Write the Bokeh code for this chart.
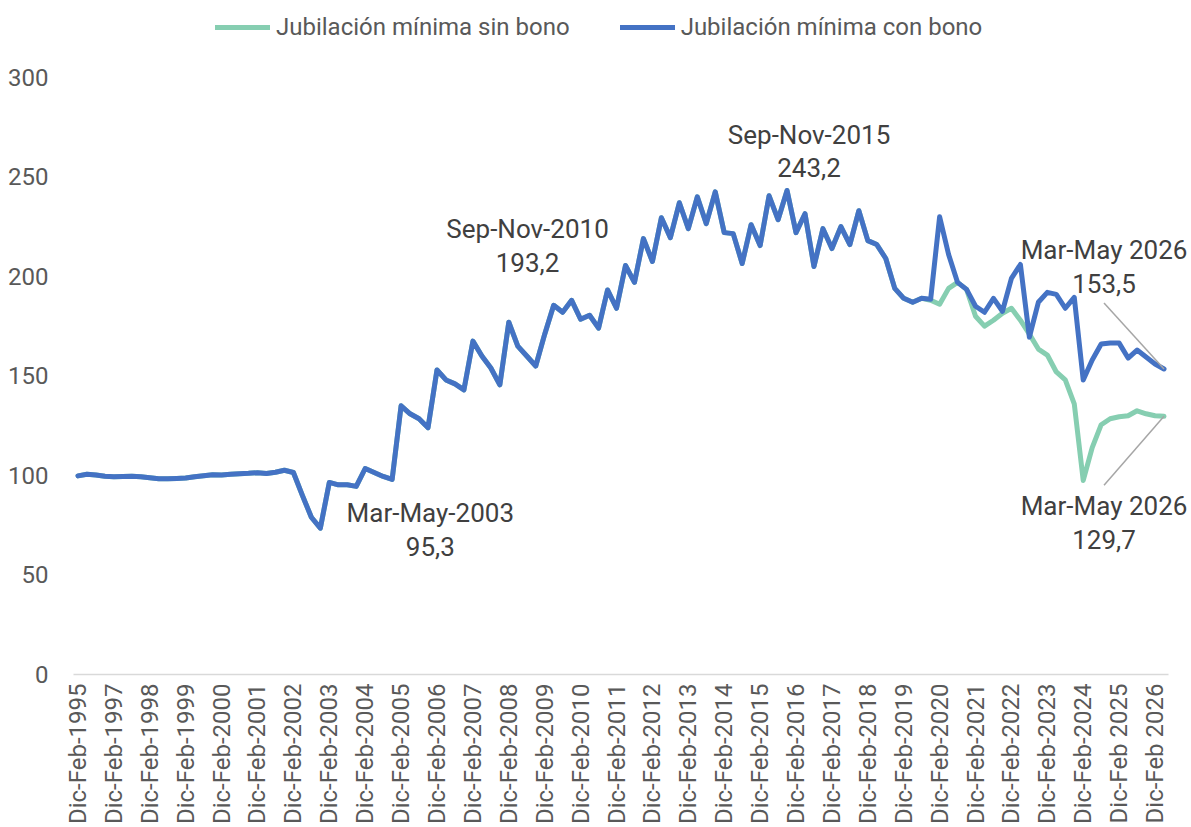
import math
from bokeh.plotting import figure
from bokeh.models import FixedTicker, Legend, LegendItem, Range1d
from bokeh.embed import file_html
from bokeh.resources import INLINE
from bokeh.core.properties import value

# ---------------- data ----------------
tick_labels = [
    "Dic-Feb-1995", "Dic-Feb-1997", "Dic-Feb-1998", "Dic-Feb-1999", "Dic-Feb-2000",
    "Dic-Feb-2001", "Dic-Feb-2002", "Dic-Feb-2003", "Dic-Feb-2004", "Dic-Feb-2005",
    "Dic-Feb-2006", "Dic-Feb-2007", "Dic-Feb-2008", "Dic-Feb-2009", "Dic-Feb-2010",
    "Dic-Feb-2011", "Dic-Feb-2012", "Dic-Feb-2013", "Dic-Feb-2014", "Dic-Feb-2015",
    "Dic-Feb-2016", "Dic-Feb-2017", "Dic-Feb-2018", "Dic-Feb-2019", "Dic-Feb-2020",
    "Dic-Feb-2021", "Dic-Feb-2022", "Dic-Feb-2023", "Dic-Feb-2024", "Dic-Feb 2025",
    "Dic-Feb 2026",
]

con_bono = [
    99.8, 100.6, 100.2, 99.6, 99.3, 99.5, 99.6, 99.3, 98.8, 98.4,
    98.3, 98.5, 98.7, 99.4, 99.9, 100.3, 100.2, 100.6, 100.9, 101.1,
    101.4, 101.0, 101.6, 102.6, 101.5, 90.0, 79.0, 73.5, 96.5, 95.3,
    95.3, 94.5, 103.5, 101.5, 99.5, 98.0, 135.0, 131.0, 128.5, 124.0,
    153.0, 148.0, 146.0, 143.0, 167.5, 160.0, 154.0, 145.5, 177.0, 165.0,
    160.0, 155.0, 171.0, 185.5, 182.0, 188.0, 178.5, 180.5, 174.0, 193.2,
    184.0, 205.5, 197.0, 219.0, 207.5, 229.5, 219.5, 237.0, 224.0, 240.0,
    226.5, 242.5, 222.0, 221.5, 206.5, 226.0, 215.5, 240.5, 228.5, 243.2,
    222.0, 231.5, 205.0, 224.0, 214.0, 225.0, 216.0, 233.0, 218.0, 216.0,
    209.0, 194.0, 189.0, 187.0, 189.0, 188.5, 230.0, 211.0, 197.0, 193.5,
    185.0, 182.0, 189.0, 182.5, 199.0, 206.0, 169.5, 187.0, 192.0, 191.0,
    184.0, 189.5, 148.0, 158.0, 166.0, 166.5, 166.5, 159.0, 163.0, 159.5,
    156.0, 153.5,
]

sin_bono = [
    99.8, 100.6, 100.2, 99.6, 99.3, 99.5, 99.6, 99.3, 98.8, 98.4,
    98.3, 98.5, 98.7, 99.4, 99.9, 100.3, 100.2, 100.6, 100.9, 101.1,
    101.4, 101.0, 101.6, 102.6, 101.5, 90.0, 79.0, 73.5, 96.5, 95.3,
    95.3, 94.5, 103.5, 101.5, 99.5, 98.0, 135.0, 131.0, 128.5, 124.0,
    153.0, 148.0, 146.0, 143.0, 167.5, 160.0, 154.0, 145.5, 177.0, 165.0,
    160.0, 155.0, 171.0, 185.5, 182.0, 188.0, 178.5, 180.5, 174.0, 193.2,
    184.0, 205.5, 197.0, 219.0, 207.5, 229.5, 219.5, 237.0, 224.0, 240.0,
    226.5, 242.5, 222.0, 221.5, 206.5, 226.0, 215.5, 240.5, 228.5, 243.2,
    222.0, 231.5, 205.0, 224.0, 214.0, 225.0, 216.0, 233.0, 218.0, 216.0,
    209.0, 194.0, 189.0, 187.0, 189.0, 188.0, 186.0, 194.0, 197.0, 193.5,
    180.0, 175.0, 178.0, 181.5, 184.0, 178.0, 171.0, 163.5, 160.5, 152.0,
    148.0, 136.0, 97.5, 114.0, 125.5, 128.5, 129.5, 130.0, 132.5, 131.0,
    130.0, 129.7,
]

series_names = ["Jubilación mínima sin bono", "Jubilación mínima con bono"]

# annotation labels: (series, index, period text)
annotations = [
    ("con", 29, "Mar-May-2003"),
    ("con", 59, "Sep-Nov-2010"),
    ("con", 79, "Sep-Nov-2015"),
    ("con", 121, "Mar-May 2026"),
    ("sin", 121, "Mar-May 2026"),
]

# ---------------- figure ----------------
FONT = "Roboto"
n = len(con_bono)
xs = list(range(n))

W, H = 1191, 827
LEFT = 73
FRAME_H = 675.0
PX_X = 1095.0 / n           # pixels per category
PX_Y = 598.0 / 300.0        # pixels per value unit
x_end = -0.5 + (W - LEFT) / PX_X
y_end = FRAME_H / PX_Y

p = figure(width=W, height=H, output_backend="svg", toolbar_location=None,
           x_range=Range1d(-0.5, x_end), y_range=Range1d(0, y_end),
           min_border_left=LEFT, min_border_right=0, min_border_top=0,
           min_border_bottom=0)
p.outline_line_color = None
p.xgrid.visible = False
p.ygrid.visible = False
p.background_fill_color = "white"
p.border_fill_color = "white"

GREEN = "#86CEB1"
BLUE = "#4472C4"
r_sin = p.line(xs, sin_bono, line_color=GREEN, line_width=5,
               line_join="round", line_cap="round")
r_con = p.line(xs, con_bono, line_color=BLUE, line_width=5,
               line_join="round", line_cap="round")

# axes
p.xaxis.ticker = FixedTicker(ticks=[4 * k for k in range(len(tick_labels))])
p.xaxis.major_label_overrides = {4 * k: lab for k, lab in enumerate(tick_labels)}
p.xaxis.major_label_orientation = math.pi / 2
p.xaxis.major_label_text_font = FONT
p.xaxis.major_label_text_font_size = "24px"
p.xaxis.major_label_text_color = "#595959"
p.xaxis.major_label_standoff = 9
p.xaxis.axis_line_color = "#D9D9D9"
p.xaxis.axis_line_width = 1.5
p.xaxis.bounds = (-0.5, n - 0.5)
p.xaxis.major_tick_in = 0
p.xaxis.major_tick_out = 0
p.xaxis.minor_tick_in = 0
p.xaxis.minor_tick_out = 0

p.yaxis.ticker = FixedTicker(ticks=[0, 50, 100, 150, 200, 250, 300])
p.yaxis.major_label_text_font = FONT
p.yaxis.major_label_text_font_size = "24px"
p.yaxis.major_label_text_color = "#595959"
p.yaxis.major_label_standoff = 25
p.yaxis.axis_line_color = None
p.yaxis.major_tick_in = 0
p.yaxis.major_tick_out = 0
p.yaxis.minor_tick_in = 0
p.yaxis.minor_tick_out = 0

# annotations (offsets in screen pixels converted to data units)
offsets = {
    ("con", 29): (92, 45),
    ("con", 59): (-80, -44),
    ("con", 79): (22, -39),
    ("con", 121): (-60, -102),
    ("sin", 121): (-60, 107),
}
leaders = {
    ("con", 121): (-60, -66),
    ("sin", 121): (-60, 69),
}
series = {"con": con_bono, "sin": sin_bono}
tx, ty, tt = [], [], []
for s, idx, per in annotations:
    v = series[s][idx]
    txt = per + "\n" + ("%.1f" % v).replace(".", ",")
    dx, dy = offsets[(s, idx)]
    if (s, idx) in leaders:
        lx, ly = leaders[(s, idx)]
        p.segment(x0=[idx + lx / PX_X], y0=[v - ly / PX_Y], x1=[idx], y1=[v],
                  line_color="#A6A6A6", line_width=1.5)
    tx.append(idx + dx / PX_X)
    ty.append(v - dy / PX_Y)
    tt.append(txt)

p.text(x=tx, y=ty, text=tt, text_font=value(FONT), text_font_size="26px",
       text_color="#404040", text_align="center", text_baseline="middle",
       text_line_height=1.12)

legend = Legend(items=[LegendItem(label=series_names[0], renderers=[r_sin]),
                       LegendItem(label=series_names[1], renderers=[r_con])],
                orientation="horizontal", location=(142, 633),
                glyph_width=55, glyph_height=24, label_standoff=6, spacing=50,
                padding=0, margin=0, border_line_alpha=0, background_fill_alpha=0,
                label_text_font=FONT, label_text_font_size="24px",
                label_text_color="#595959")
p.add_layout(legend, "center")

open("out.html", "w").write(file_html(p, INLINE))
